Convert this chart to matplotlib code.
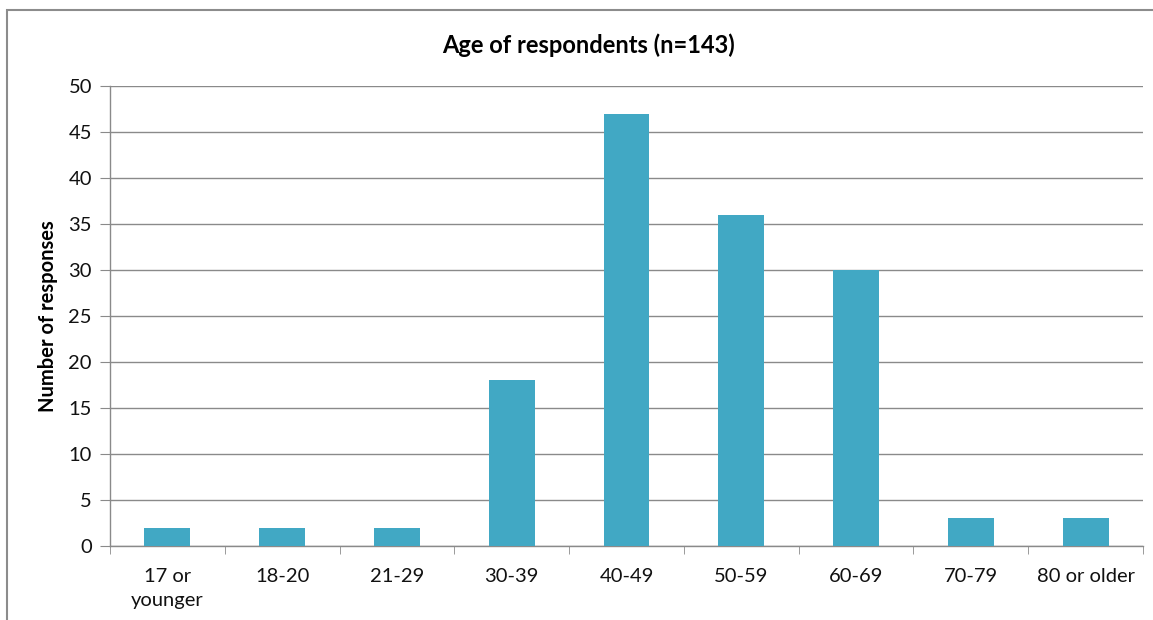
import matplotlib
matplotlib.use("Agg")
import matplotlib.pyplot as plt
from matplotlib.patches import Rectangle
import numpy as np

categories = ["17 or\nyounger", "18-20", "21-29", "30-39", "40-49",
              "50-59", "60-69", "70-79", "80 or older"]
responses = [2, 2, 2, 18, 47, 36, 30, 3, 3]
title = "Age of respondents (n=143)"
ylabel = "Number of responses"

plt.rcParams["font.family"] = ["Lato", "DejaVu Sans"]

W, H = 1153, 620
fig = plt.figure(figsize=(W / 100, H / 100), dpi=100)
fig.patch.set_facecolor("white")

# chart frame (runs off the right and bottom edges)
fig.patches.append(Rectangle((7 / W, -0.05), 1.1, 1.05 - 10 / H,
                             transform=fig.transFigure, fill=False,
                             edgecolor="#8c8c8c", linewidth=1.5))

ax = fig.add_axes([110 / W, 1 - 546 / H, (1143 - 110) / W, (546 - 86) / H])
x = np.arange(len(categories))
ax.bar(x, responses, width=0.4, color="#41A8C4", zorder=3)

ax.set_xlim(-0.5, len(categories) - 0.5)
ax.set_ylim(0, 50)
ax.set_yticks(np.arange(0, 51, 5))
ax.yaxis.grid(True, color="#8a8a8a", linewidth=1.0, zorder=0)
ax.set_xticks(x)
ax.set_xticklabels(categories, fontsize=14.5, color="#111111", linespacing=1.45)
ax.set_xticks(np.arange(-0.5, len(categories), 1), minor=True)
ax.tick_params(axis="x", which="major", length=0, pad=16)
ax.tick_params(axis="x", which="minor", length=6, color="#8a8a8a", direction="out")
ax.tick_params(axis="y", length=7, color="#8a8a8a", labelsize=14.5,
               labelcolor="#111111", pad=6)

for side in ("top", "right"):
    ax.spines[side].set_visible(False)
for side in ("left", "bottom"):
    ax.spines[side].set_color("#8a8a8a")
    ax.spines[side].set_linewidth(1.0)

ax.set_ylabel(ylabel, fontsize=14.5, fontweight="bold")
ax.yaxis.set_label_coords(-52 / (1143 - 110), 0.5)
fig.text(588 / W, 1 - 45 / H, title, ha="center", va="center",
         fontsize=17, fontweight="bold")

fig.savefig("out.png", dpi=100)
